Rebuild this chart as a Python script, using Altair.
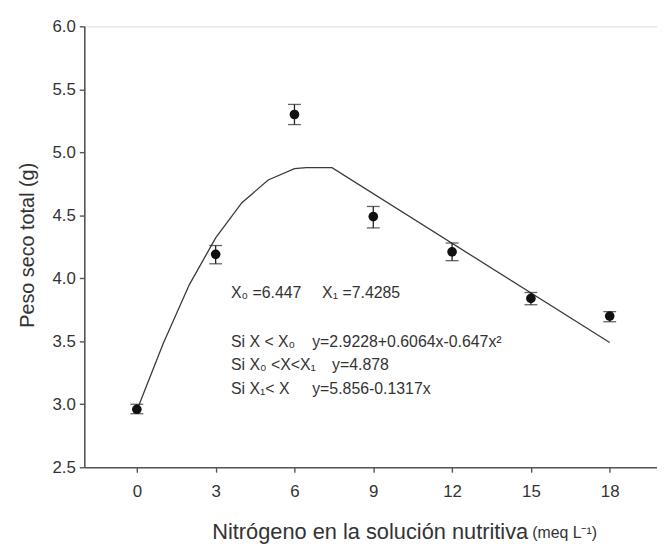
import altair as alt
import pandas as pd

# ---- data ----
nitrogeno = [0, 3, 6, 9, 12, 15, 18]
peso = [2.96, 4.19, 5.30, 4.49, 4.21, 3.84, 3.70]
err_lo = [2.925, 4.115, 5.22, 4.40, 4.14, 3.79, 3.655]
err_hi = [3.00, 4.26, 5.38, 4.57, 4.28, 3.887, 3.735]

fit_x = [0, 1, 2, 3, 4, 5, 6, 6.447, 7.4285, 18]
fit_y = [2.95, 3.48, 3.95, 4.32, 4.60, 4.78, 4.87, 4.878, 4.878, 3.49]

x_ticks = [0, 3, 6, 9, 12, 15, 18]
y_ticks = [2.5, 3.0, 3.5, 4.0, 4.5, 5.0, 5.5, 6.0]

ann_left = ["X\u2080 =6.447", "Si X < X\u2080", "Si X\u2080 <X<X\u2081", "Si  X\u2081< X"]
ann_right = ["X\u2081 =7.4285", "y=2.9228+0.6064x-0.647x\u00b2", "y=4.878", "y=5.856-0.1317x"]

x_title_main = "Nitrógeno en la solución nutritiva"
x_title_unit = "(meq L\u207b\u00b9)"
y_title = "Peso seco total (g)"

pts = pd.DataFrame({"x": nitrogeno, "y": peso, "lo": err_lo, "hi": err_hi})
fit = pd.DataFrame({"x": fit_x, "y": fit_y})
one = pd.DataFrame({"k": [0]})

W, H = 578, 445
FONT = "Liberation Sans"
AX = "#555555"
TXT = "#333333"

xscale = alt.Scale(domain=[-2, 19.8], nice=False, zero=False)
yscale = alt.Scale(domain=[2.5, 6.0], nice=False, zero=False)

xaxis = alt.Axis(values=x_ticks, grid=False, domainColor=AX, domainWidth=1.6,
                 tickColor=AX, tickWidth=1.4, tickSize=5, labelFont=FONT,
                 labelFontSize=17, labelColor=TXT, labelPadding=12, title=None)
yaxis = alt.Axis(values=y_ticks, format=".1f", grid=False, domainColor=AX,
                 domainWidth=1.6, tickColor=AX, tickWidth=1.4, tickSize=5,
                 labelFont=FONT, labelFontSize=17, labelColor=TXT,
                 labelPadding=4, title=None)

line = alt.Chart(fit).mark_line(color="#3a3a3a", strokeWidth=1.3).encode(
    x=alt.X("x:Q", scale=xscale, axis=xaxis),
    y=alt.Y("y:Q", scale=yscale, axis=yaxis),
)

bars = alt.Chart(pts).mark_rule(color="#222222", strokeWidth=1.3).encode(
    x=alt.X("x:Q", scale=xscale), y=alt.Y("lo:Q", scale=yscale), y2="hi:Q"
)
cap_lo = alt.Chart(pts).mark_tick(orient="horizontal", size=13, thickness=1.3,
                                  color="#222222").encode(
    x=alt.X("x:Q", scale=xscale), y=alt.Y("lo:Q", scale=yscale)
)
cap_hi = alt.Chart(pts).mark_tick(orient="horizontal", size=13, thickness=1.3,
                                  color="#222222").encode(
    x=alt.X("x:Q", scale=xscale), y=alt.Y("hi:Q", scale=yscale)
)
dots = alt.Chart(pts).mark_point(filled=True, size=95, color="#111111",
                                 opacity=1).encode(
    x=alt.X("x:Q", scale=xscale), y=alt.Y("y:Q", scale=yscale)
)

layers = [line, bars, cap_lo, cap_hi, dots]


def label(txt, px, py, size, align="left", angle=0, baseline="middle"):
    return alt.Chart(one).mark_text(
        align=align, baseline=baseline, font=FONT, fontSize=size,
        fontWeight="normal", fill=TXT, angle=angle,
    ).encode(x=alt.value(px), y=alt.value(py), text=alt.value(txt))


# annotation text (plot-relative pixel anchors)
ann_y = [269, 319, 342, 366]
ann_xl = [148, 148, 148, 148]
ann_xr = [240, 230, 250, 230]
for i in range(4):
    layers.append(label(ann_left[i], ann_xl[i], ann_y[i], 16))
    layers.append(label(ann_right[i], ann_xr[i], ann_y[i], 16))

# axis titles
layers.append(label(x_title_main, 448, H + 72, 22, align="right", baseline="alphabetic"))
layers.append(label(x_title_unit, 452, H + 71, 16, baseline="alphabetic"))
layers.append(label(y_title, -57, 221, 20, align="center", angle=270))

chart = alt.layer(*layers).properties(
    width=W, height=H,
    autosize=alt.AutoSizeParams(type="none"),
    padding={"left": 77, "top": 16, "right": 0, "bottom": 78},
).configure_view(stroke=None).configure(background="white")

chart.save("out.html", embed_options={"renderer": "svg", "actions": False})
